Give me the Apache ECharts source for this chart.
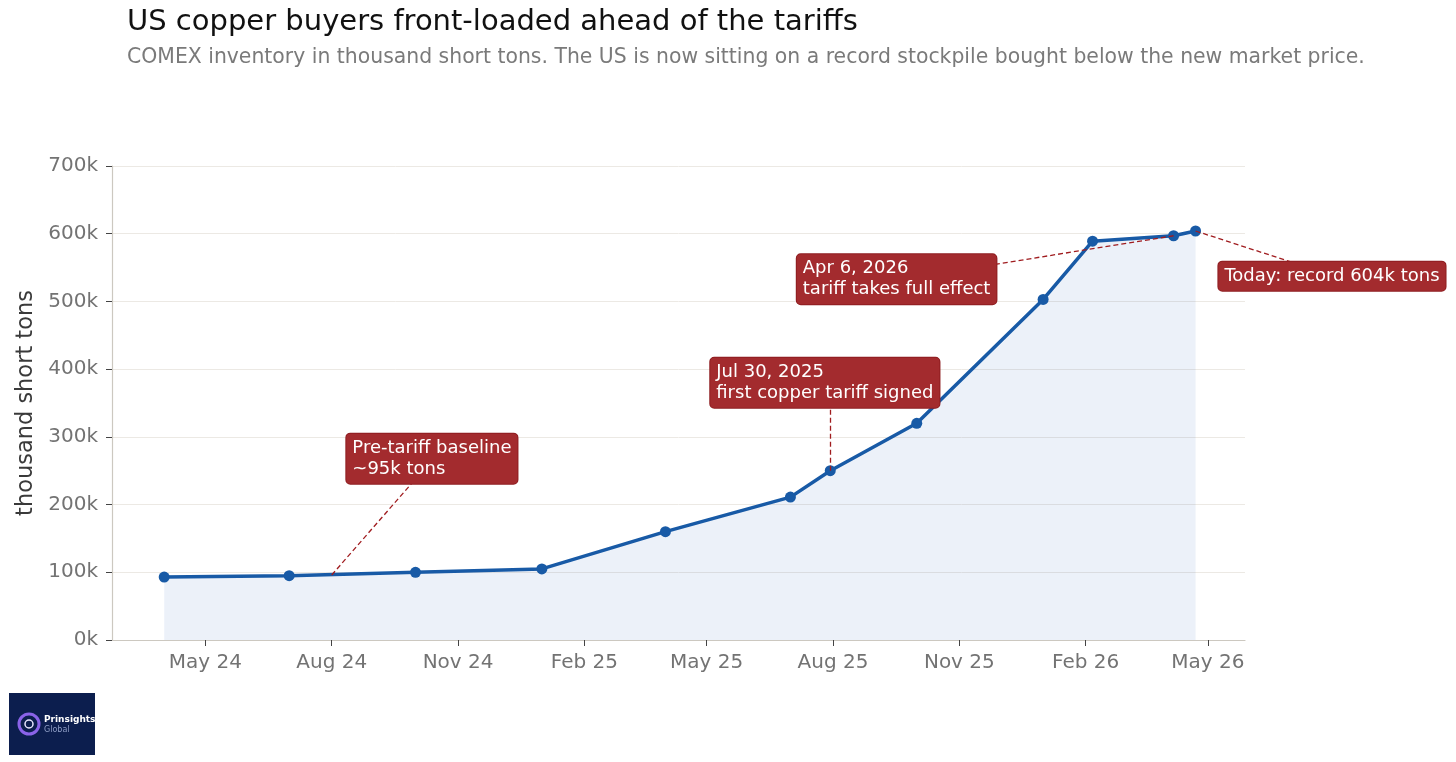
<!DOCTYPE html>
<html>
<head>
<meta charset="utf-8">
<script src="https://cdn.jsdelivr.net/npm/echarts@6/dist/echarts.min.js"></script>
<style>
  html, body { margin: 0; padding: 0; background: #fff; }
  #chart { width: 1456px; height: 762px; }
</style>
</head>
<body>
<div id="chart"></div>
<script>
// COMEX copper inventory, thousand short tons
var dates  = ['2024-04-01', '2024-07-01', '2024-10-01', '2025-01-01', '2025-04-01', '2025-07-01',
              '2025-07-30', '2025-10-01', '2026-01-01', '2026-02-06', '2026-04-06', '2026-04-22'];
var stocks = [93, 95, 100, 105, 160, 211, 250, 320, 503, 589, 597, 604];

var tickDates = ['2024-05-01', '2024-08-01', '2024-11-01', '2025-02-01', '2025-05-01',
                 '2025-08-01', '2025-11-01', '2026-02-01', '2026-05-01'];
var monthNames = ['Jan', 'Feb', 'Mar', 'Apr', 'May', 'Jun', 'Jul', 'Aug', 'Sep', 'Oct', 'Nov', 'Dec'];

// annotations: text, the point it refers to, where its box sits (top-left), and where the dash aims
var noteTexts  = ['Pre-tariff baseline\n~95k tons', 'Jul 30, 2025\nfirst copper tariff signed',
                  'Apr 6, 2026\ntariff takes full effect', 'Today: record 604k tons'];
var notePoints = [['2024-08-01', 96], ['2025-07-30', 250], ['2026-04-06', 597], ['2026-04-22', 604]];
var noteBoxes  = [['2024-08-12', 304], ['2025-05-04', 416], ['2025-07-06', 569], ['2026-05-09', 558]];
var noteAims   = [['2024-10-14', 268], ['2025-07-30', 378], ['2025-09-18', 532], ['2026-08-02', 537]];

function ts(s) { return new Date(s + 'T00:00:00').getTime(); }

var lineData = dates.map(function (d, i) { return [ts(d), stocks[i]]; });
var boxData = noteBoxes.map(function (b, i) { return { value: [ts(b[0]), b[1]], name: noteTexts[i] }; });
var dashData = notePoints.map(function (p, i) {
    return { coords: [[ts(p[0]), p[1]], [ts(noteAims[i][0]), noteAims[i][1]]] };
});

var red = '#a32b2e';
var chart = echarts.init(document.getElementById('chart'));
chart.setOption({
    animation: false,
    textStyle: { fontFamily: 'DejaVu Sans' },
    title: [
        {
            text: 'US copper buyers front-loaded ahead of the tariffs',
            left: 127, top: 8, padding: 0,
            textStyle: { fontSize: 29, fontWeight: 'normal', color: '#111', fontFamily: 'DejaVu Sans' }
        },
        {
            text: 'COMEX inventory in thousand short tons. The US is now sitting on a record stockpile bought below the new market price.',
            left: 127, top: 48, padding: 0,
            textStyle: { fontSize: 20.4, fontWeight: 'normal', color: '#7a7a7a', fontFamily: 'DejaVu Sans' }
        }
    ],
    grid: { left: 112, right: 211, top: 166, bottom: 122 },
    xAxis: {
        type: 'value',
        min: ts('2024-02-23'),
        max: ts('2026-05-28'),
        axisLine: { lineStyle: { color: '#ccc8c0', width: 1.2 } },
        axisTick: { show: true, length: 6, lineStyle: { color: '#444' }, customValues: tickDates.map(ts) },
        axisLabel: {
            customValues: tickDates.map(ts),
            fontSize: 20, color: '#737373', margin: 13,
            formatter: function (v) {
                var d = new Date(v);
                return monthNames[d.getMonth()] + ' ' + String(d.getFullYear()).slice(2);
            }
        },
        splitLine: { show: false }
    },
    yAxis: {
        type: 'value',
        min: 0, max: 700, interval: 100,
        name: 'thousand short tons',
        nameLocation: 'middle',
        nameGap: 70,
        nameTextStyle: { fontSize: 22.5, color: '#3a3a3a' },
        axisLine: { show: true, lineStyle: { color: '#ccc8c0', width: 1.2 } },
        axisTick: { show: true, length: 6, lineStyle: { color: '#444' } },
        axisLabel: { formatter: '{value}k', fontSize: 20, color: '#737373', margin: 14 },
        splitLine: { lineStyle: { color: '#ece9e4', width: 1 } }
    },
    series: [
        {
            type: 'line',
            data: lineData,
            z: 2,
            symbol: 'circle',
            symbolSize: 11,
            lineStyle: { color: '#185aa6', width: 3.5 },
            itemStyle: { color: '#185aa6' },
            areaStyle: { color: 'rgba(40, 95, 180, 0.12)' },
            emphasis: { disabled: true },
            silent: true
        },
        {
            type: 'lines',
            coordinateSystem: 'cartesian2d',
            data: dashData,
            z: 3,
            clip: false,
            silent: true,
            lineStyle: { color: '#a01c1f', width: 1.3, type: [5, 3], opacity: 1 }
        },
        {
            type: 'scatter',
            data: boxData,
            z: 4,
            clip: false,
            silent: true,
            symbolSize: 1,
            itemStyle: { color: 'rgba(0,0,0,0)', opacity: 1 },
            label: {
                show: true,
                position: [0, 0],
                align: 'left',
                verticalAlign: 'top',
                formatter: '{b}',
                fontSize: 18,
                lineHeight: 21,
                color: '#fff',
                opacity: 1,
                backgroundColor: red,
                borderColor: '#8e1d20',
                borderWidth: 1,
                borderRadius: 4,
                padding: [4, 6, 4, 6]
            },
            labelLayout: { hideOverlap: false }
        }
    ],
    graphic: [
        {
            type: 'group', left: 9, top: 693,
            children: [
                { type: 'rect', shape: { x: 0, y: 0, width: 86, height: 62 }, style: { fill: '#0c1e4e' } },
                { type: 'circle', shape: { cx: 20, cy: 31, r: 10 }, style: { fill: 'none', stroke: '#8a63e8', lineWidth: 3 } },
                { type: 'circle', shape: { cx: 20, cy: 31, r: 4 }, style: { fill: 'none', stroke: '#e9e6ff', lineWidth: 1.5 } },
                { type: 'text', x: 35, y: 22, style: { text: 'Prinsights', fill: '#ffffff', fontSize: 9, fontWeight: 'bold', fontFamily: 'DejaVu Sans' } },
                { type: 'text', x: 35, y: 33, style: { text: 'Global', fill: '#8d9cc4', fontSize: 8, fontFamily: 'DejaVu Sans' } }
            ]
        }
    ]
});
</script>
</body>
</html>
